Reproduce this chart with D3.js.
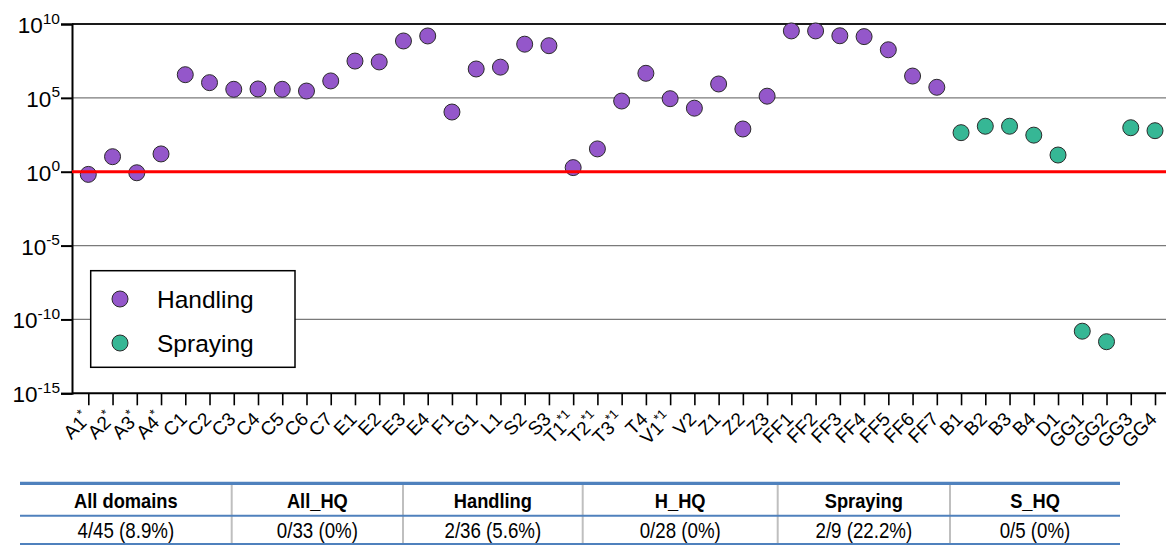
<!DOCTYPE html>
<html>
<head>
<meta charset="utf-8">
<script src="https://cdn.jsdelivr.net/npm/d3@7"></script>
<style>
  html, body { margin: 0; padding: 0; background: #fff; }
  svg { display: block; }
  text { font-family: "Liberation Sans", Arial, Helvetica, sans-serif; }
</style>
</head>
<body>
<svg id="chart" width="1166" height="545"></svg>
<script>
// ---------------- DATA ----------------
const handlingCats = ["A1","A2","A3","A4","C1","C2","C3","C4","C5","C6","C7","E1","E2","E3","E4","F1","G1","L1","S2","S3","T1","T2","T3","T4","V1","V2","Z1","Z2","Z3","FF1","FF2","FF3","FF4","FF5","FF6","FF7"];
const handlingMarks = ["*","*","*","*","","","","","","","","","","","","","","","","","*1","*1","*1","","*1","","","","","","","","","","",""];
const handlingValues = [0.66,10.4,0.85,16,3.7e6,1.07e6,3.8e5,4.0e5,3.8e5,2.9e5,1.4e6,3.1e7,2.7e7,7.1e8,1.55e9,1.1e4,9e6,1.2e7,4.3e8,3.4e8,1.9,35,6.1e4,4.6e6,8.8e4,2.0e4,8.7e5,780,1.3e5,3.4e9,3.4e9,1.6e9,1.4e9,1.8e8,3.0e6,5.2e5];

const sprayingCats = ["B1","B2","B3","B4","D1","GG1","GG2","GG3","GG4"];
const sprayingMarks = ["","","","","","","","",""];
const sprayingValues = [440,1200,1200,300,13.5,1.6e-11,3.1e-12,950,600];

const yTickExponents = [10,5,0,-5,-10,-15];
const thresholdValue = 1;

const seriesNames = ["Handling","Spraying"];
const seriesColors = ["#9457CA","#36B795"];

const tableHeaders = ["All domains","All_HQ","Handling","H_HQ","Spraying","S_HQ"];
const tableValues = ["4/45 (8.9%)","0/33 (0%)","2/36 (5.6%)","0/28 (0%)","2/9 (22.2%)","0/5 (0%)"];

// ---------------- CHART ----------------
const svg = d3.select("#chart");
const pLeft = 72, pRight = 1166, pTop = 24, pBottom = 393.3;

const allCats = handlingCats.concat(sprayingCats);
const allMarks = handlingMarks.concat(sprayingMarks);
const points = handlingCats.map((c,i)=>({cat:c, v:handlingValues[i], s:0}))
  .concat(sprayingCats.map((c,i)=>({cat:c, v:sprayingValues[i], s:1})));

const x = d3.scalePoint().domain(allCats).range([88.3, 1155]);
const y = d3.scaleLog().domain([1e-15, 1e10]).range([pBottom, pTop]);

// gridlines
const grid = svg.append("g");
yTickExponents.forEach(e => {
  if (e === -15 || e === 0) return;
  grid.append("line")
    .attr("x1", pLeft).attr("x2", pRight)
    .attr("y1", y(Math.pow(10,e))).attr("y2", y(Math.pow(10,e)))
    .attr("stroke", e === 10 ? "#1a1a1a" : "#7a7a7a")
    .attr("stroke-width", e === 10 ? 2 : 1.2);
});

// Y axis
const yAxis = svg.append("g").attr("transform", `translate(${pLeft},0)`)
  .call(d3.axisLeft(y).tickValues(yTickExponents.map(e=>Math.pow(10,e))).tickSize(11).tickFormat(""));
yAxis.select(".domain").attr("stroke","#000").attr("stroke-width",2);
yAxis.selectAll(".tick line").attr("stroke","#000").attr("stroke-width",2);

const yLab = svg.append("g");
yTickExponents.forEach(e => {
  const t = yLab.append("text")
    .attr("x", 60).attr("y", y(Math.pow(10,e)) + 9)
    .attr("text-anchor","end")
    .attr("font-size", 22.5).attr("fill","#000");
  t.append("tspan").text("10");
  t.append("tspan").attr("font-size", 15.5).attr("dy", -9.5).text(String(e));
});

// X axis
const xAxis = svg.append("g").attr("transform", `translate(0,${pBottom})`)
  .call(d3.axisBottom(x).tickSize(12).tickFormat(""));
xAxis.select(".domain").attr("d", `M${pLeft},0H${pRight}`).attr("stroke","#000").attr("stroke-width",2);
xAxis.selectAll(".tick line").attr("stroke","#000").attr("stroke-width",1.6);

const xLab = svg.append("g");
allCats.forEach((c,i) => {
  const t = xLab.append("text")
    .attr("transform", `translate(${x(c)+3},${pBottom+27}) rotate(-45)`)
    .attr("text-anchor","end")
    .attr("font-size", 19).attr("fill","#000");
  t.append("tspan").text(c);
  if (allMarks[i]) t.append("tspan").attr("font-size", 13).attr("dy", -8).text(allMarks[i]);
});

// points
svg.append("g").selectAll("circle").data(points).join("circle")
  .attr("cx", d => x(d.cat)).attr("cy", d => y(d.v)).attr("r", 8)
  .attr("fill", d => seriesColors[d.s]).attr("stroke", "#2b2b2b").attr("stroke-width", 1);

// threshold line
svg.append("line")
  .attr("x1", pLeft).attr("x2", pRight)
  .attr("y1", y(thresholdValue)).attr("y2", y(thresholdValue))
  .attr("stroke", "#ff0000").attr("stroke-width", 3);

// legend
const lg = svg.append("g");
lg.append("rect").attr("x", 90.7).attr("y", 270.7).attr("width", 204.3).attr("height", 96.6)
  .attr("fill","#fff").attr("stroke","#000").attr("stroke-width",1.5);
seriesNames.forEach((n,i) => {
  lg.append("circle").attr("cx", 120).attr("cy", 299 + i*44).attr("r", 8)
    .attr("fill", seriesColors[i]).attr("stroke","#2b2b2b").attr("stroke-width",1);
  lg.append("text").attr("x", 157).attr("y", 307.5 + i*44).attr("font-size", 24.5).attr("fill","#000").text(n);
});

// ---------------- TABLE ----------------
const colEdges = [20, 231.7, 403, 582.7, 777.7, 950, 1120];
const tb = svg.append("g");
for (let i = 1; i < colEdges.length - 1; i++) {
  tb.append("line").attr("x1", colEdges[i]).attr("x2", colEdges[i])
    .attr("y1", 484).attr("y2", 545).attr("stroke", "#bfbfbf").attr("stroke-width", 2);
}
tb.append("line").attr("x1", colEdges[0]).attr("x2", colEdges[6]).attr("y1", 483.3).attr("y2", 483.3)
  .attr("stroke", "#4F81BD").attr("stroke-width", 3.2);
tb.append("line").attr("x1", colEdges[0]).attr("x2", colEdges[6]).attr("y1", 515.7).attr("y2", 515.7)
  .attr("stroke", "#4F81BD").attr("stroke-width", 2);
tb.append("line").attr("x1", colEdges[0]).attr("x2", colEdges[6]).attr("y1", 544).attr("y2", 544)
  .attr("stroke", "#4F81BD").attr("stroke-width", 2);
tableHeaders.forEach((h,i) => {
  const cx = (colEdges[i] + colEdges[i+1]) / 2;
  tb.append("text").attr("transform", `translate(${cx},507.5) scale(0.87,1)`).attr("text-anchor","middle")
    .attr("font-size", 21).attr("font-weight","bold").attr("fill","#000").text(h);
  tb.append("text").attr("transform", `translate(${cx},537.5) scale(0.87,1)`).attr("text-anchor","middle")
    .attr("font-size", 21.5).attr("fill","#000").text(tableValues[i]);
});
</script>
</body>
</html>
